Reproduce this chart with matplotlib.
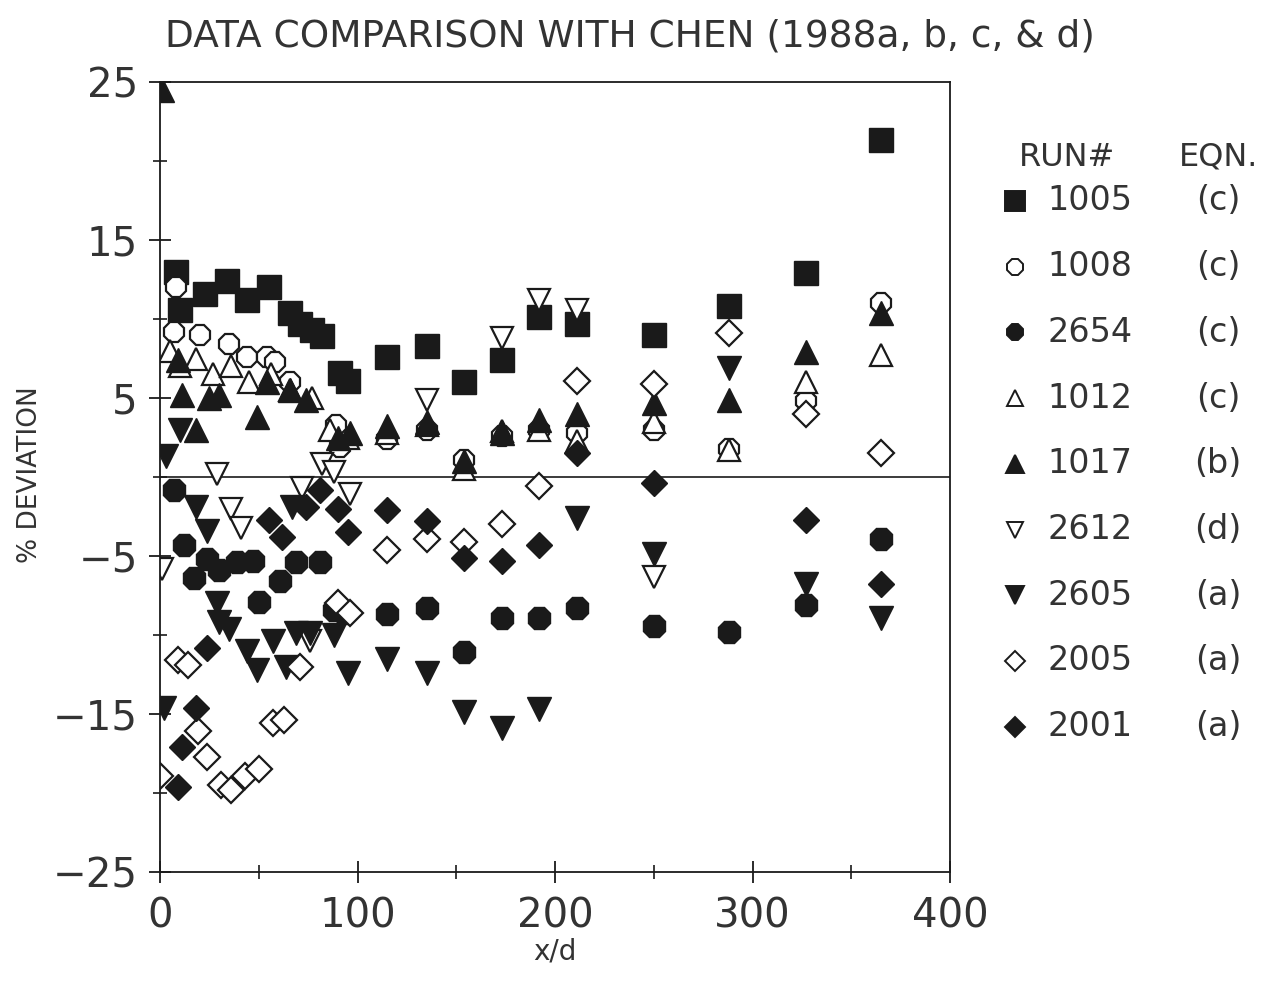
import matplotlib
matplotlib.use("Agg")
import matplotlib.pyplot as plt
from matplotlib.ticker import MultipleLocator

# ---------------- data ----------------
runs = ["1005", "1008", "2654", "1012", "1017", "2612", "2605", "2005", "2001"]
eqns = ["(c)", "(c)", "(c)", "(c)", "(b)", "(d)", "(a)", "(a)", "(a)"]

x_1005 = [8, 10, 23, 34, 44, 55, 66, 71, 77, 82, 91, 95, 115, 135, 154, 173, 192, 211, 250, 288, 327, 365]
y_1005 = [13.0, 10.6, 11.6, 12.4, 11.2, 12.0, 10.4, 9.7, 9.3, 8.9, 6.6, 6.1, 7.6, 8.3, 6.0, 7.4, 10.1, 9.7, 9.0, 10.8, 12.9, 21.3]

x_1008 = [8, 7, 20, 35, 44, 54, 58, 66, 89, 91, 115, 135, 154, 173, 192, 211, 250, 288, 327, 365]
y_1008 = [12.0, 9.2, 9.0, 8.4, 7.6, 7.6, 7.3, 6.0, 3.3, 1.9, 2.4, 3.0, 1.1, 2.6, 3.0, 2.8, 3.0, 1.8, 4.8, 11.0]

x_2654 = [7, 12, 17, 24, 30, 39, 47, 50, 61, 69, 81, 88, 93, 115, 135, 154, 173, 192, 211, 250, 288, 327, 365]
y_2654 = [-0.8, -4.3, -6.4, -5.2, -5.9, -5.4, -5.3, -7.9, -6.6, -5.4, -5.4, -8.4, -8.6, -8.7, -8.3, -11.1, -8.9, -8.9, -8.3, -9.4, -9.8, -8.1, -3.9]

x_1012 = [5, 10, 18, 27, 36, 45, 56, 66, 77, 86, 95, 115, 135, 154, 173, 192, 211, 250, 288, 327, 365]
y_1012 = [8.0, 7.0, 7.5, 6.5, 7.0, 6.0, 6.5, 5.5, 5.0, 3.0, 2.5, 2.8, 3.3, 0.5, 2.9, 3.0, 2.3, 3.5, 1.7, 6.0, 7.7]

x_1017 = [1, 9, 11, 18, 25, 30, 49, 54, 66, 74, 90, 96, 115, 135, 154, 173, 192, 211, 250, 288, 327, 365]
y_1017 = [24.5, 7.4, 5.2, 3.0, 5.0, 5.2, 3.8, 6.0, 5.5, 4.9, 2.5, 2.8, 3.2, 3.5, 1.0, 2.8, 3.6, 4.0, 4.7, 4.9, 7.9, 10.4]

x_2612 = [1, 29, 36, 41, 72, 76, 82, 88, 96, 135, 173, 192, 211, 250]
y_2612 = [-5.8, 0.2, -2.0, -3.2, -0.7, -10.4, 0.8, 0.3, -1.1, 4.9, 8.8, 11.2, 10.6, -6.3]

x_2605 = [2, 3, 10, 18, 24, 29, 30, 35, 44, 49, 57, 64, 67, 69, 76, 88, 95, 115, 135, 154, 173, 192, 211, 250, 288, 327, 365]
y_2605 = [-14.6, 1.3, 3.0, -1.9, -3.4, -8.0, -9.2, -9.6, -11.0, -12.2, -10.4, -12.0, -1.9, -9.9, -9.9, -10.0, -12.4, -11.5, -12.4, -14.9, -15.9, -14.7, -2.6, -4.9, 6.9, -6.8, -8.9]

x_2005 = [0, 9, 14, 19, 24, 31, 36, 43, 50, 57, 63, 71, 90, 96, 115, 135, 154, 173, 192, 211, 250, 288, 327, 365]
y_2005 = [-18.9, -11.6, -11.9, -16.1, -17.7, -19.5, -19.8, -18.9, -18.5, -15.6, -15.4, -12.0, -8.0, -8.6, -4.6, -3.9, -4.1, -3.0, -0.6, 6.1, 5.9, 9.1, 4.0, 1.5]

x_2001 = [9, 11, 18, 24, 55, 62, 74, 81, 90, 95, 115, 135, 154, 173, 192, 211, 250, 327, 365]
y_2001 = [-19.6, -17.1, -14.6, -10.8, -2.7, -3.8, -1.9, -0.8, -2.0, -3.5, -2.1, -2.8, -5.1, -5.3, -4.3, 1.5, -0.4, -2.7, -6.8]

series = [
    (x_1005, y_1005, "s", True, 17),
    (x_1008, y_1008, "8", False, 16),
    (x_2654, y_2654, "8", True, 17),
    (x_1012, y_1012, "^", False, 16),
    (x_1017, y_1017, "^", True, 17),
    (x_2612, y_2612, "v", False, 16),
    (x_2605, y_2605, "v", True, 17),
    (x_2005, y_2005, "D", False, 13),
    (x_2001, y_2001, "D", True, 13),
]

INK = "#1a1a1a"
TXT = "#333333"

fig = plt.figure(figsize=(12.7, 9.9), dpi=100)
W, H = 1270, 990
ax = fig.add_axes([160 / W, 1 - 872 / H, 790 / W, 790 / H])

for xs, ys, m, filled, ms in series:
    ax.plot(xs, ys, linestyle="none", marker=m, markersize=ms,
            markerfacecolor=INK if filled else "white",
            markeredgecolor=INK, markeredgewidth=1.6 if not filled else 1.0)

ax.axhline(0, color=INK, linewidth=1.2, zorder=0)
ax.set_xlim(0, 400)
ax.set_ylim(-25, 25)
ax.xaxis.set_major_locator(MultipleLocator(100))
ax.xaxis.set_minor_locator(MultipleLocator(50))
ax.set_yticks([-25, -15, -5, 5, 15, 25])
ax.yaxis.set_minor_locator(MultipleLocator(5))
ax.tick_params(which="major", direction="inout", length=16, width=1.3, color=INK,
               labelsize=29, labelcolor=TXT)
ax.tick_params(which="minor", direction="inout", length=10, width=1.2, color=INK)
ax.tick_params(axis="x", pad=10)
ax.tick_params(axis="y", pad=8)
for sp in ax.spines.values():
    sp.set_linewidth(1.3)
    sp.set_color(INK)

ax.set_xlabel("x/d", fontsize=20, color=TXT, labelpad=0)
fig.text(30 / W, 1 - 475 / H, "% DEVIATION", rotation=90, fontsize=19,
         color=TXT, ha="center", va="center")
fig.text(630 / W, 1 - 36 / H, "DATA COMPARISON WITH CHEN (1988a, b, c, & d)",
         fontsize=27, color=TXT, ha="center", va="center")

# legend drawn in a pixel-coordinate overlay
lax = fig.add_axes([0, 0, 1, 1], facecolor="none")
lax.set_xlim(0, W)
lax.set_ylim(H, 0)
lax.axis("off")
lax.text(1067, 157, "RUN#", fontsize=23, color=TXT, ha="center", va="center")
lax.text(1219, 157, "EQN.", fontsize=23, color=TXT, ha="center", va="center")
row0, dy = 201, 65.7
leg_sizes = [14, 12, 13, 12, 13, 11, 13, 10, 10]
for i, (run, eq) in enumerate(zip(runs, eqns)):
    yy = row0 + i * dy
    _, _, m, filled, _ = series[i]
    lax.plot([1015], [yy], linestyle="none", marker=m, markersize=leg_sizes[i],
             markerfacecolor=INK if filled else "white", markeredgecolor=INK,
             markeredgewidth=1.4)
    lax.text(1047, yy, run, fontsize=24, color=TXT, ha="left", va="center")
    lax.text(1218, yy, eq, fontsize=24, color=TXT, ha="center", va="center")

fig.savefig("out.png", dpi=100, facecolor="white")
